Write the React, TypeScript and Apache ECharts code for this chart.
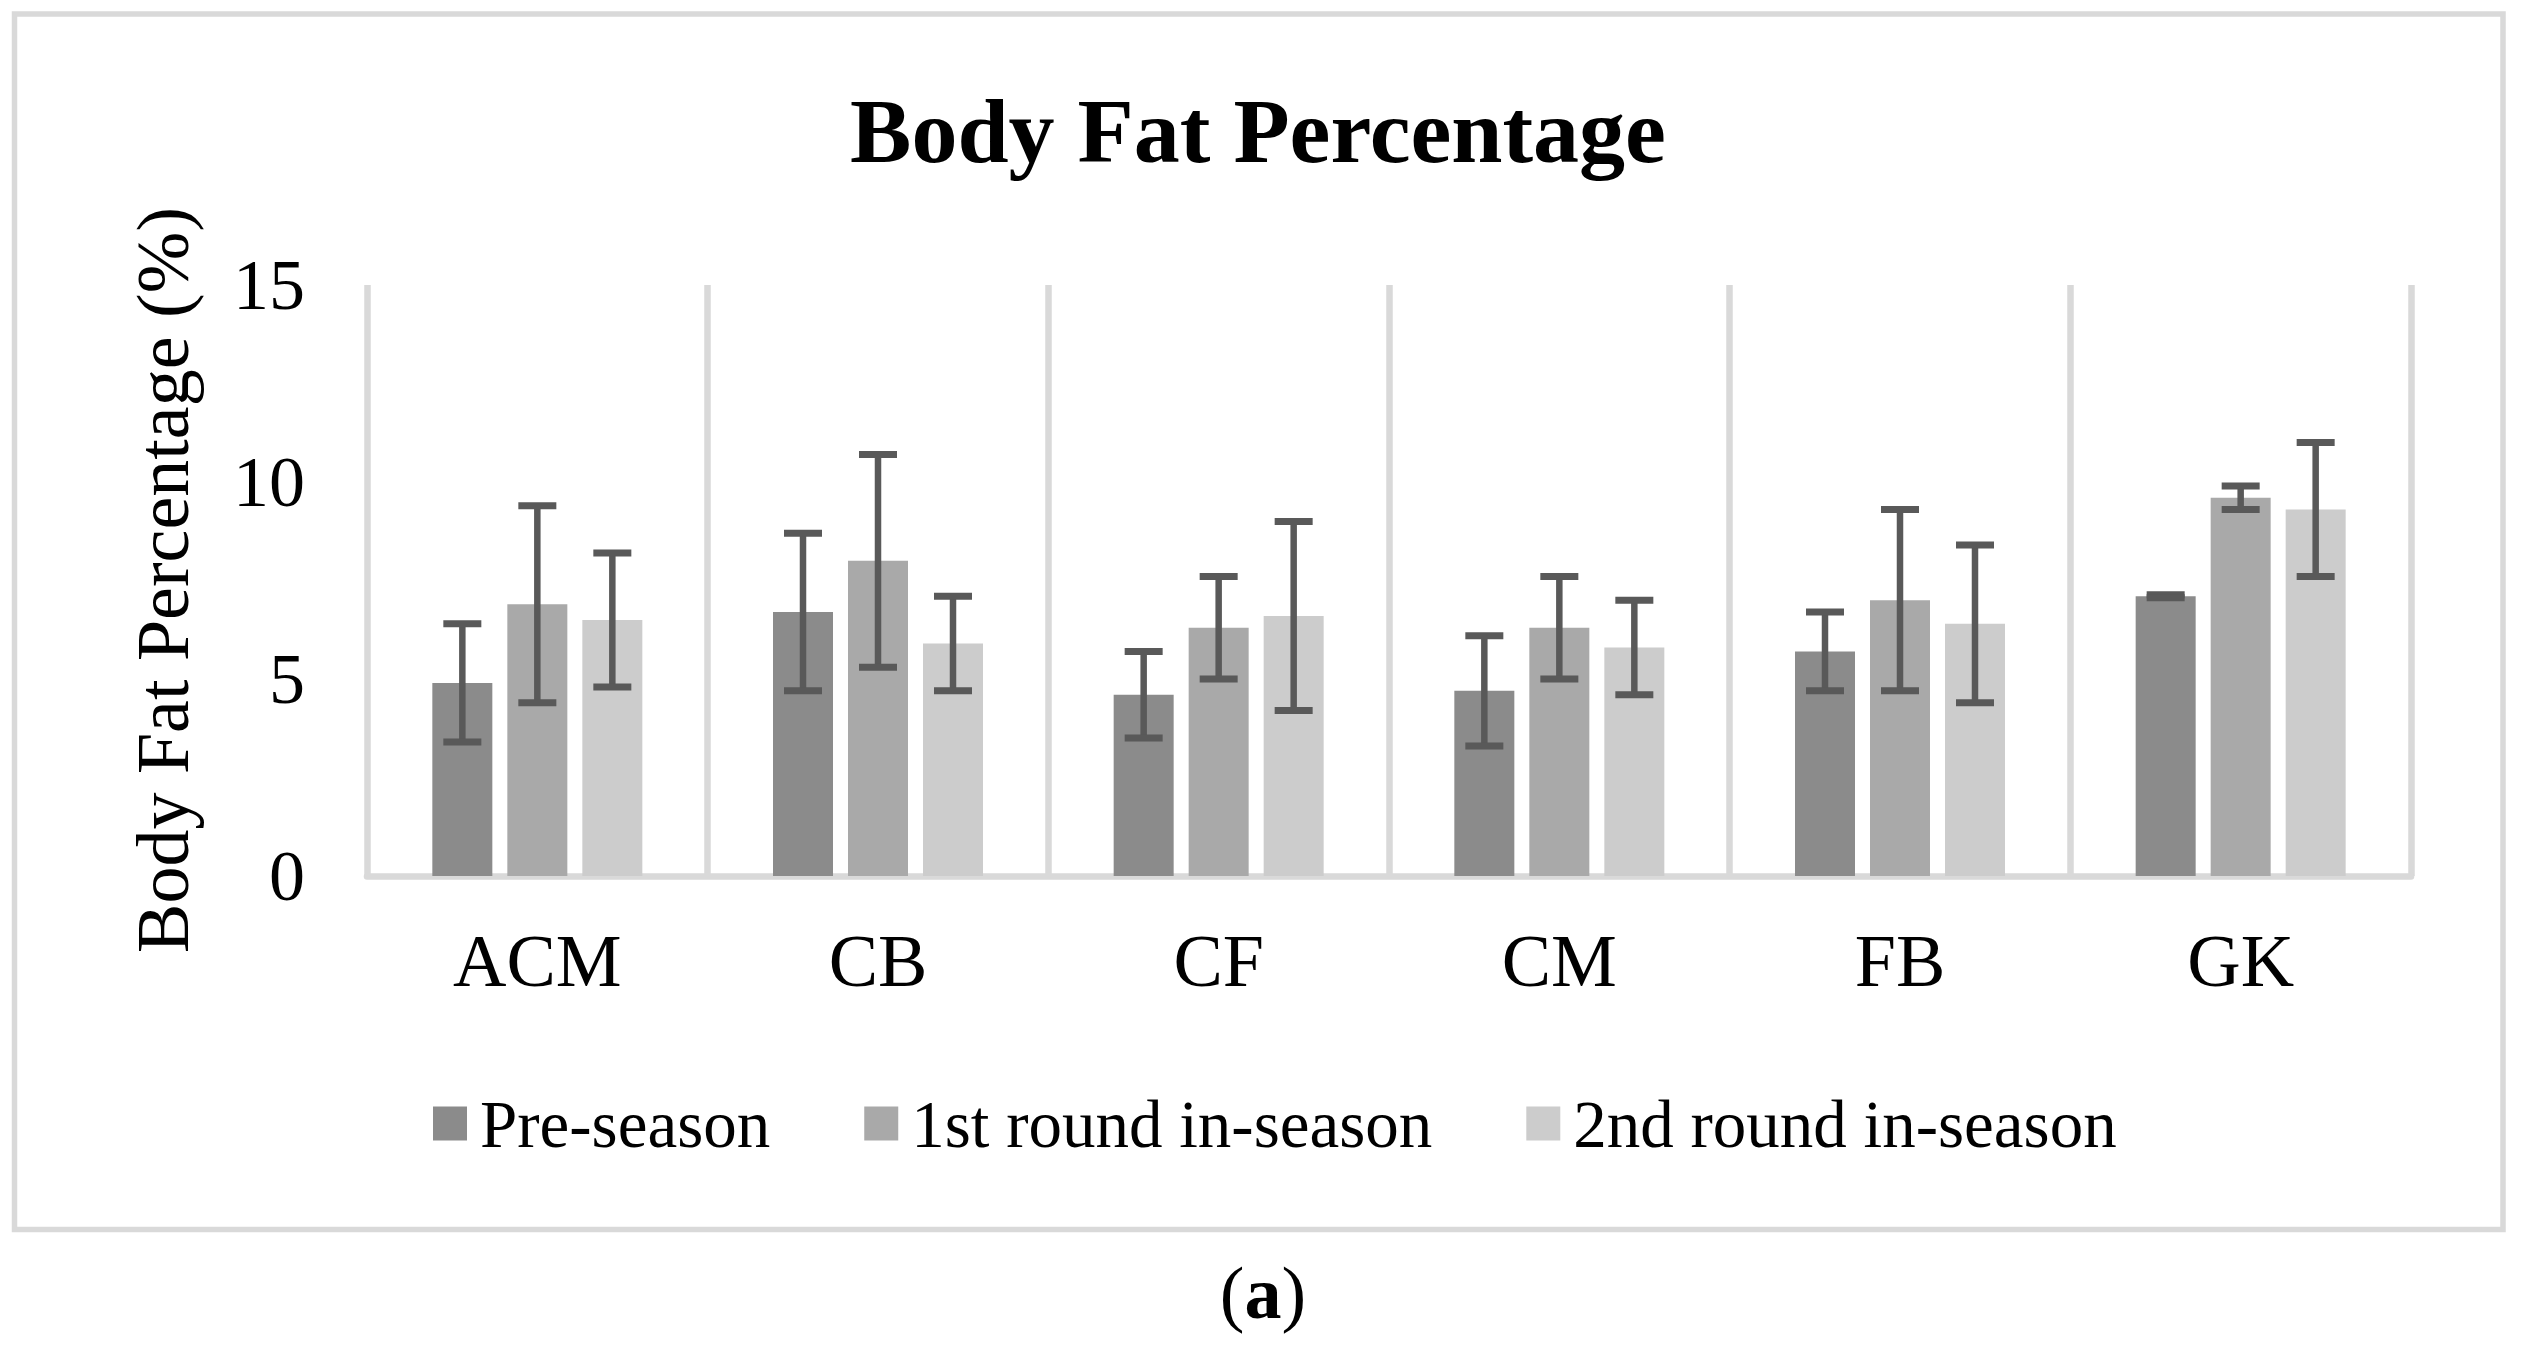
import React, { useEffect, useRef } from "react";
import * as echarts from "echarts";

const categories = ["ACM", "CB", "CF", "CM", "FB", "GK"];
const seriesNames = ["Pre-season", "1st round in-season", "2nd round in-season"];
const preSeason = [4.9, 6.7, 4.6, 4.7, 5.7, 7.1];
const preSeasonSD = [1.5, 2.0, 1.1, 1.4, 1.0, 0.04];
const firstRound = [6.9, 8.0, 6.3, 6.3, 7.0, 9.6];
const firstRoundSD = [2.5, 2.7, 1.3, 1.3, 2.3, 0.3];
const secondRound = [6.5, 5.9, 6.6, 5.8, 6.4, 9.3];
const secondRoundSD = [1.7, 1.2, 2.4, 1.2, 2.0, 1.7];
const yTicks = { min: 0, max: 15, interval: 5 };

const FONT = '"Liberation Serif", "Times New Roman", serif';
const COLORS = ["#8B8B8B", "#A9A9A9", "#CCCCCC"];
const ERR_COLOR = "#595959";
const GRID_COLOR = "#D9D9D9";
const BAR_WIDTH = 60;
const BAR_GAP = 15;
const CAP_W = 38;

export default function App() {
  const ref = useRef<HTMLDivElement>(null);
  useEffect(() => {
    if (!ref.current) return;
    const chart = echarts.init(ref.current, null, { renderer: "svg" });
    const means = [preSeason, firstRound, secondRound];
    const sds = [preSeasonSD, firstRoundSD, secondRoundSD];
    const n = means.length;
    const barSeries = means.map((m, k) => ({
      name: seriesNames[k],
      type: "bar",
      data: m,
      barWidth: BAR_WIDTH,
      barGap: (BAR_GAP / BAR_WIDTH) * 100 + "%",
      itemStyle: { color: COLORS[k] },
      z: 2,
    }));
    const errSeries = means.map((m, k) => {
      const offset = (k - (n - 1) / 2) * (BAR_WIDTH + BAR_GAP);
      return {
        type: "custom",
        name: "err" + k,
        data: m.map((v, i) => [i, v - sds[k][i], v + sds[k][i]]),
        encode: { x: 0, y: [1, 2] },
        z: 5,
        renderItem: (params: any, api: any) => {
          const xi = api.value(0);
          const lo = api.coord([xi, api.value(1)]);
          const hi = api.coord([xi, api.value(2)]);
          const x = lo[0] + offset;
          const style = { stroke: ERR_COLOR, lineWidth: 6.5 };
          return {
            type: "group",
            children: [
              { type: "line", shape: { x1: x, y1: hi[1], x2: x, y2: lo[1] }, style },
              { type: "line", shape: { x1: x - CAP_W / 2, y1: hi[1], x2: x + CAP_W / 2, y2: hi[1] }, style: { ...style, lineWidth: 7 } },
              { type: "line", shape: { x1: x - CAP_W / 2, y1: lo[1], x2: x + CAP_W / 2, y2: lo[1] }, style: { ...style, lineWidth: 7 } },
            ],
          };
        },
      };
    });
    chart.setOption({
      animation: false,
      backgroundColor: "#ffffff",
      grid: { left: 367, right: 110, top: 285, bottom: 469, containLabel: false },
      legend: {
        data: seriesNames,
        left: 428,
        top: 1085,
        icon: "rect",
        itemWidth: 34,
        itemHeight: 34,
        itemGap: 94,
        textStyle: { fontFamily: FONT, fontSize: 67, color: "#000", padding: [0, 0, 0, 8] },
      },
      xAxis: {
        type: "category",
        data: categories,
        axisLine: { show: true, lineStyle: { color: GRID_COLOR, width: 6.5 } },
        axisTick: { show: false },
        splitLine: { show: true, lineStyle: { color: GRID_COLOR, width: 6.5 } },
        axisLabel: { fontFamily: FONT, fontSize: 74, color: "#000", margin: 48 },
      },
      yAxis: {
        type: "value",
        min: yTicks.min,
        max: yTicks.max,
        interval: yTicks.interval,
        axisLine: { show: false },
        axisTick: { show: false },
        splitLine: { show: false },
        axisLabel: { fontFamily: FONT, fontSize: 72, color: "#000", margin: 62 },
      },
      graphic: [
        {
          type: "rect",
          shape: { x: 14.5, y: 14, width: 2488.5, height: 1215.5 },
          style: { fill: "none", stroke: GRID_COLOR, lineWidth: 5.5 },
          silent: true,
        },
        {
          type: "text",
          x: 1258,
          y: 131,
          style: {
            text: "Body Fat Percentage",
            fontFamily: FONT,
            fontSize: 92,
            fontWeight: "bold",
            fill: "#000",
            align: "center",
            verticalAlign: "middle",
          },
        },
        {
          type: "text",
          x: 163,
          y: 580,
          rotation: Math.PI / 2,
          style: {
            text: "Body Fat Percentage (%)",
            fontFamily: FONT,
            fontSize: 74,
            fill: "#000",
            align: "center",
            verticalAlign: "middle",
          },
        },
        {
          type: "text",
          x: 1263,
          y: 1293,
          style: {
            text: "({b|a})",
            fontFamily: FONT,
            fontSize: 74,
            fill: "#000",
            align: "center",
            verticalAlign: "middle",
            rich: { b: { fontFamily: FONT, fontSize: 74, fontWeight: "bold", fill: "#000" } },
          },
        },
      ],
      series: [...barSeries, ...errSeries],
    });
    return () => chart.dispose();
  }, []);
  return (
    <div
      ref={ref}
      style={{ position: "absolute", left: 0, top: 0, width: 2521, height: 1345, background: "#fff" }}
    />
  );
}
